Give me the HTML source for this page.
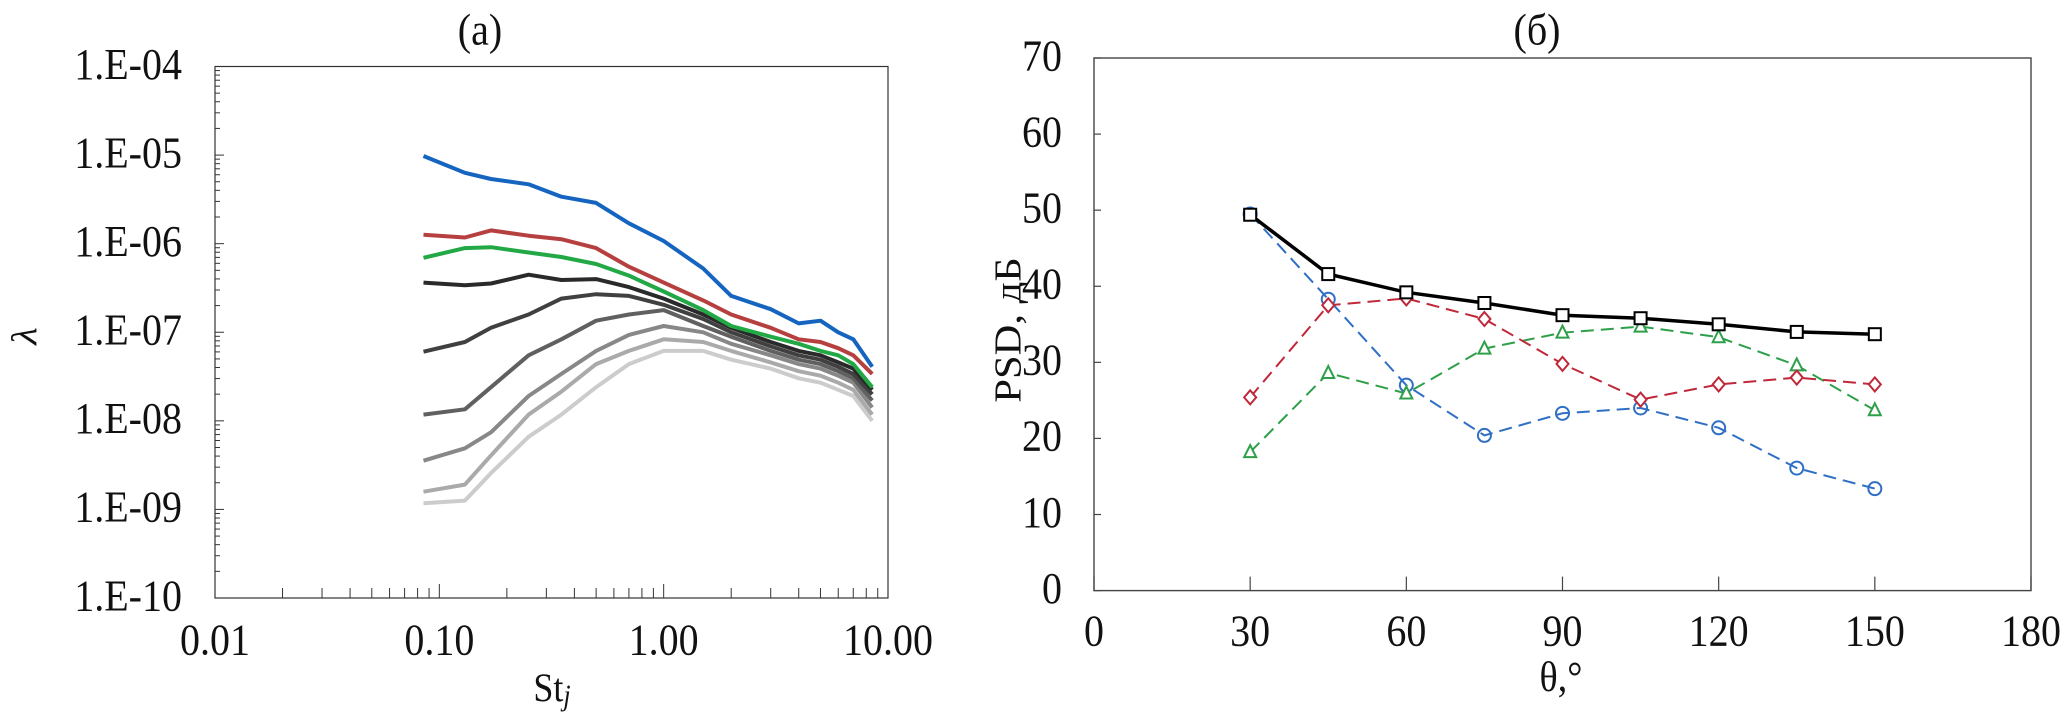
<!DOCTYPE html>
<html><head><meta charset="utf-8"><style>
html,body{margin:0;padding:0;background:#fff;}
svg{display:block;font-family:"Liberation Serif","Noto Serif CJK SC",serif;}
</style></head><body>
<svg id="fig" width="2067" height="714" viewBox="0 0 2067 714" xmlns="http://www.w3.org/2000/svg">
<g id="left"></g>
<g id="right"></g>
</svg>
<script>
// ---- Chart (a) data ----
const stValues = [0.085,0.13,0.17,0.25,0.35,0.5,0.7,1.0,1.5,2,3,4,5,6,7,8.5];
const seriesColors = ["#1565c0","#b5403f","#22a845","#2a2a2a","#404040","#606060","#888888","#aaaaaa","#cccccc"];
const logLambdaBlue  = [-5.01,-5.2,-5.27,-5.33,-5.47,-5.54,-5.77,-5.97,-6.28,-6.59,-6.74,-6.9,-6.87,-7.0,-7.08,-7.39];
const logLambdaRed   = [-5.90,-5.93,-5.85,-5.91,-5.95,-6.05,-6.26,-6.44,-6.64,-6.8,-6.95,-7.08,-7.11,-7.18,-7.26,-7.47];
const logLambdaGreen = [-6.16,-6.05,-6.04,-6.1,-6.15,-6.23,-6.36,-6.54,-6.75,-6.93,-7.05,-7.13,-7.21,-7.26,-7.36,-7.62];
const logLambdaGray1 = [-6.44,-6.47,-6.45,-6.35,-6.41,-6.40,-6.49,-6.62,-6.8,-6.95,-7.11,-7.21,-7.26,-7.34,-7.41,-7.65];
const logLambdaGray2 = [-7.22,-7.11,-6.95,-6.80,-6.62,-6.57,-6.59,-6.69,-6.85,-7.0,-7.16,-7.26,-7.31,-7.39,-7.47,-7.70];
const logLambdaGray3 = [-7.93,-7.87,-7.62,-7.26,-7.08,-6.87,-6.80,-6.75,-6.93,-7.05,-7.21,-7.31,-7.36,-7.44,-7.52,-7.77];
const logLambdaGray4 = [-8.45,-8.31,-8.13,-7.72,-7.47,-7.21,-7.03,-6.93,-7.0,-7.13,-7.26,-7.36,-7.41,-7.49,-7.57,-7.85];
const logLambdaGray5 = [-8.80,-8.72,-8.39,-7.93,-7.67,-7.36,-7.21,-7.08,-7.11,-7.21,-7.34,-7.44,-7.49,-7.57,-7.65,-7.93];
const logLambdaGray6 = [-8.93,-8.90,-8.59,-8.18,-7.93,-7.62,-7.36,-7.21,-7.21,-7.31,-7.41,-7.52,-7.57,-7.65,-7.72,-8.0];
const yTickLabelsA = ["1.E-04","1.E-05","1.E-06","1.E-07","1.E-08","1.E-09","1.E-10"];
const xTickLabelsA = ["0.01","0.10","1.00","10.00"];

// ---- Chart (b) data ----
const thetaValues = [30,45,60,75,90,105,120,135,150];
const psdBlack = [49.4,41.6,39.2,37.8,36.2,35.8,35.0,34.0,33.7];
const psdBlue  = [49.5,38.3,27.0,20.4,23.3,24.0,21.4,16.1,13.4];
const psdRed   = [25.4,37.5,38.4,35.7,29.8,25.1,27.1,28.0,27.1];
const psdGreen = [18.2,28.6,25.9,31.8,33.9,34.7,33.3,29.6,23.7];
const yTickLabelsB = ["0","10","20","30","40","50","60","70"];
const xTickLabelsB = ["0","30","60","90","120","150","180"];

const NS="http://www.w3.org/2000/svg";
function mk(parent,tag,attrs){const e=document.createElementNS(NS,tag);for(const k in attrs)e.setAttribute(k,attrs[k]);parent.appendChild(e);return e;}
function txt(parent,x,y,s,anchor,size){const t=mk(parent,"text",{transform:`translate(${x},${y}) scale(1,1.12)`,"text-anchor":anchor,"font-size":size,fill:"#111","dominant-baseline":"middle"});t.textContent=s;return t;}

// ----- Chart A -----
const L=document.getElementById("left");
const ax={x0:215,x1:888,y0:66.5,y1:598};
const xA=v=>ax.x0+(Math.log10(v)+2)/3*(ax.x1-ax.x0);
const yA=lg=>ax.y0+(-4-lg)/6*(ax.y1-ax.y0);
let r=mk(L,"rect",{x:ax.x0,y:ax.y0,width:ax.x1-ax.x0,height:ax.y1-ax.y0,fill:"none",stroke:"#333","stroke-width":1.2});


for(let d=0;d<6;d++){for(let k=1;k<=9;k++){const yy=yA(-4-d-1+Math.log10(k));const len=k===1?9:5;mk(L,"line",{x1:ax.x0,x2:ax.x0+len,y1:yy,y2:yy,stroke:"#333","stroke-width":1});}}
for(let d=0;d<3;d++){for(let k=1;k<=9;k++){const xx=xA(Math.pow(10,-2+d)*k);const len=k===1?14:10;mk(L,"line",{x1:xx,x2:xx,y1:ax.y1,y2:ax.y1-len,stroke:"#333","stroke-width":1});}}
yTickLabelsA.forEach((s,i)=>{const t=txt(L,182,yA(-4-i)+2,s,"end",40);

});
xTickLabelsA.forEach((s,i)=>{const t=txt(L,xA(Math.pow(10,-2+i)),644,s,"middle",40);

});
const seriesA=[logLambdaGray6,logLambdaGray5,logLambdaGray4,logLambdaGray3,logLambdaGray2,logLambdaGray1,logLambdaGreen,logLambdaRed,logLambdaBlue];
const colA=[8,7,6,5,4,3,2,1,0];
seriesA.forEach((arr,si)=>{const pts=arr.map((v,i)=>xA(stValues[i]).toFixed(1)+","+yA(v).toFixed(1)).join(" ");
const p=mk(L,"polyline",{points:pts,fill:"none",stroke:seriesColors[colA[si]],"stroke-width":4,"stroke-linejoin":"round"});

});
let t=txt(L,480,34,"(a)","middle",40);


t=mk(L,"text",{transform:"translate(28,336) rotate(-90) scale(1.12,1)","text-anchor":"middle","font-size":36,fill:"#111","font-style":"italic","dominant-baseline":"middle"});t.textContent="λ";


t=txt(L,552,692,"St","middle",36);


const sub=mk(L,"tspan",{"font-style":"italic","font-size":26,dy:6});sub.textContent="j";t.appendChild(sub);

// ----- Chart B -----
const R=document.getElementById("right");
const bx={x0:1094,x1:2031,y0:58,y1:590.6};
const xB=v=>bx.x0+v/180*(bx.x1-bx.x0);
const yB=v=>bx.y1-v/70*(bx.y1-bx.y0);
r=mk(R,"rect",{x:bx.x0,y:bx.y0,width:bx.x1-bx.x0,height:bx.y1-bx.y0,fill:"none",stroke:"#444","stroke-width":1.4});


yTickLabelsB.forEach((s,i)=>{const v=+s;mk(R,"line",{x1:bx.x0,x2:bx.x0+7,y1:yB(v),y2:yB(v),stroke:"#444","stroke-width":1.2});
const q=txt(R,1062,yB(v)+2,s,"end",40);

});
xTickLabelsB.forEach((s,i)=>{const v=+s;mk(R,"line",{x1:xB(v),x2:xB(v),y1:bx.y1,y2:bx.y1-14,stroke:"#444","stroke-width":1.2});
const q=txt(R,xB(v),635,s,"middle",40);

});
function series(arr,color,dash,marker,name){
 const pts=arr.map((v,i)=>xB(thetaValues[i]).toFixed(1)+","+yB(v).toFixed(1)).join(" ");
 const p=mk(R,"polyline",{points:pts,fill:"none",stroke:color,"stroke-width":dash?2:3.5,"stroke-dasharray":dash?"13,7":"none"});
 
 
 arr.forEach((v,i)=>{const x=xB(thetaValues[i]),y=yB(v);let m;
  if(marker==="sq")m=mk(R,"rect",{x:x-6,y:y-6,width:12,height:12,fill:"#fff",stroke:color,"stroke-width":2});
  else if(marker==="ci")m=mk(R,"circle",{cx:x,cy:y,r:6.5,fill:"none",stroke:color,"stroke-width":2});
  else if(marker==="di")m=mk(R,"polygon",{points:`${x},${y-7} ${x+6},${y} ${x},${y+7} ${x-6},${y}`,fill:"#fff",stroke:color,"stroke-width":2});
  else m=mk(R,"polygon",{points:`${x},${y-7} ${x+6},${y+5} ${x-6},${y+5}`,fill:"#fff",stroke:color,"stroke-width":2});
  
  });
}
series(psdBlue,"#2f6fc4",true,"ci","psd-blue");
series(psdGreen,"#2ea04a",true,"tr","psd-green");
series(psdRed,"#c0283a",true,"di","psd-red");
series(psdBlack,"#000",false,"sq","psd-black");
t=txt(R,1537,34,"(б)","middle",40);


t=txt(R,1561,681,"θ,°","middle",38);


t=mk(R,"text",{transform:"translate(1012,330) rotate(-90) scale(1.12,1)","text-anchor":"middle","font-size":38,"font-weight":"normal",fill:"#111","dominant-baseline":"middle"});t.textContent="PSD, дБ";


</script>
</body></html>
